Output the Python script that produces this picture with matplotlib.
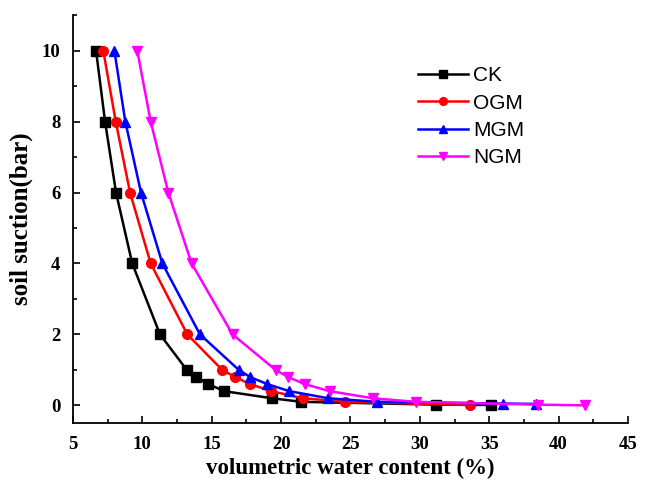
import numpy as np
import matplotlib
matplotlib.use('Agg')
import matplotlib.pyplot as plt
from matplotlib.ticker import MultipleLocator

# Soil water retention data
suction_ck = [10, 8, 6, 4, 2, 1, 0.8, 0.6, 0.4, 0.2, 0.1, 0.02, 0.01]
water_ck = [6.66, 7.31, 8.10, 9.27, 11.27, 13.2, 13.9, 14.75, 15.9, 19.35, 21.45, 31.2, 35.1]

suction_ogm = [10, 8, 6, 4, 2, 1, 0.8, 0.6, 0.4, 0.2, 0.1, 0.01]
water_ogm = [7.18, 8.08, 9.11, 10.6, 13.24, 15.75, 16.68, 17.76, 19.3, 21.6, 24.6, 33.6]

suction_mgm = [10, 8, 6, 4, 2, 1, 0.8, 0.6, 0.4, 0.2, 0.1, 0.05, 0.04]
water_mgm = [7.98, 8.77, 9.90, 11.44, 14.15, 16.95, 17.76, 19.0, 20.6, 23.4, 26.9, 36.0, 38.4]

suction_ngm = [10, 8, 6, 4, 2, 1, 0.8, 0.6, 0.4, 0.2, 0.1, 0.02, 0.0]
water_ngm = [9.63, 10.6, 11.87, 13.55, 16.5, 19.6, 20.5, 21.7, 23.5, 26.6, 29.7, 38.5, 41.9]

series = [
    ('CK', water_ck, suction_ck, 'black', 's'),
    ('OGM', water_ogm, suction_ogm, 'red', 'o'),
    ('MGM', water_mgm, suction_mgm, 'blue', '^'),
    ('NGM', water_ngm, suction_ngm, 'magenta', 'v'),
]

fig = plt.figure(figsize=(6.49, 4.88), dpi=100)
ax = fig.add_axes([0.1125, 0.133, 0.855, 0.836])

for name, x, y, color, marker in series:
    ax.plot(x, y, color=color, marker=marker, markersize=7, linewidth=1.8, label=name)

ax.set_xlim(5, 45)
ax.set_ylim(-0.5, 11)
ax.xaxis.set_major_locator(MultipleLocator(5))
ax.xaxis.set_minor_locator(MultipleLocator(2.5))
ax.yaxis.set_major_locator(MultipleLocator(2))
ax.yaxis.set_minor_locator(MultipleLocator(1))
ax.set_yticks(np.arange(0, 11, 2))

ax.spines['top'].set_visible(False)
ax.spines['right'].set_visible(False)
ax.spines['left'].set_linewidth(1.3)
ax.spines['bottom'].set_linewidth(1.3)

ax.tick_params(which='major', direction='in', length=5, width=1.2, pad=9)
ax.tick_params(which='minor', direction='in', length=3, width=1.2)

for lbl in ax.get_xticklabels() + ax.get_yticklabels():
    lbl.set_fontfamily('Liberation Serif')
    lbl.set_fontweight('bold')
    lbl.set_fontsize(13.5)

ax.set_xlabel('volumetric water content (%)', fontfamily='Liberation Serif',
              fontweight='bold', fontsize=16.5, labelpad=4)
ax.set_ylabel('soil suction(bar)', fontfamily='Liberation Serif',
              fontweight='bold', fontsize=18, labelpad=6)

leg = ax.legend(loc='upper left', bbox_to_anchor=(0.607, 0.895), frameon=False,
                handlelength=2.4, labelspacing=0.4, handletextpad=0.25,
                markerscale=0.8, borderaxespad=0,
                prop={'family': 'Liberation Sans', 'size': 15})

fig.savefig('out.png', dpi=100)
